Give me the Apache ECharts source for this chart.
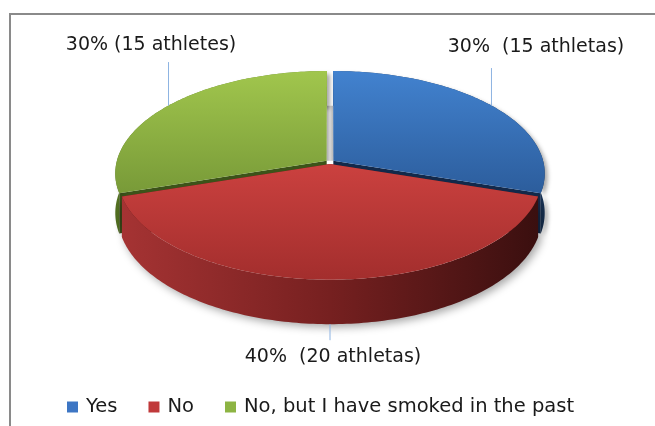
<!DOCTYPE html>
<html><head><meta charset="utf-8">
<script src="https://cdn.jsdelivr.net/npm/echarts@6/dist/echarts.min.js"></script>
<style>html,body{margin:0;padding:0;background:#fff}#c{width:655px;height:426px}</style>
</head><body><div id="c"></div>
<script>
// ---- data ----
const categories = ['Yes', 'No', 'No, but I have smoked in the past'];
const values = [15, 20, 15];
const labelTexts = ['30%  (15 athletas)', '40%  (20 athletas)', '30% (15 athletes)'];

// ---- styling / geometry (not data) ----
const CX = 330, CY = 162, R = 210, RY = 101, P = 0.122, H = 39, EXP = 0.02;
const FONT = '"DejaVu Sans", sans-serif';
const styles = [
  { legend: '#3d76c4', topA: '#4282cf', topB: '#2c5d9c', sideA: '#23446f', sideB: '#152c4b', wall: '#13294a' },
  { legend: '#c0393a', topA: '#cb413f', topB: '#a32e2d', sideA: '#a53333', sideM: '#762020', sideB: '#3a0f0f', wall: '#5a1717' },
  { legend: '#8db443', topA: '#a1c64d', topB: '#789a38', sideA: '#688a2b', sideB: '#4e6a1f', wall: '#3c5319' }
];
const labelPlace = [
  { lineDy: -37.5, dx: 44.5, dy: -58.5, bottom: false },
  { lineDy: 16, dx: 3, dy: 33, bottom: true },
  { lineDy: -43.5, dx: -17.5, dy: -60.5, bottom: false }
];

function proj(th, r, h, ox, oz) {
  const u = r * Math.sin(th) + ox;
  const w = -r * Math.cos(th) + oz;
  const s = 1 / (1 - P * w);
  return [CX + R * u * s, CY + (RY * w + h) * s];
}
function arcPts(a0, a1, h, ox, oz) {
  const n = Math.max(2, Math.ceil((a1 - a0) / (Math.PI / 180)));
  const pts = [];
  for (let k = 0; k <= n; k++) pts.push(proj(a0 + (a1 - a0) * k / n, 1, h, ox, oz));
  return pts;
}
const total = values.reduce((a, b) => a + b, 0);

function makeRender(i) {
  return function (params, api) {
    const v = api.value(0);
    let before = 0;
    for (let k = 0; k < i; k++) before += values[k];
    const a0 = before / total * Math.PI * 2;
    const a1 = a0 + v / total * Math.PI * 2;
    const mid = (a0 + a1) / 2;
    const ox = EXP * Math.sin(mid), oz = -EXP * Math.cos(mid);
    const st = styles[i];
    const G = echarts.graphic;
    const children = [];

    // gray gap seen between the two back slices at 12 o'clock (drawn with the first slice)
    if (i === 0) {
      const gm = (values[0] + values[1] + values[2] / 2) / total * Math.PI * 2;
      const gox = EXP * Math.sin(gm), goz = -EXP * Math.cos(gm);
      children.push({
        type: 'polygon',
        shape: { points: [proj(0, 0, 0, gox, goz), proj(0, 0, 0, ox, oz), proj(0, 1, H, ox, oz), proj(0, 1, H, gox, goz)] },
        style: { fill: new G.LinearGradient(0, 0, 1, 0, [{ offset: 0, color: '#a9a9a9' }, { offset: 0.5, color: '#d6d6d6' }, { offset: 1, color: '#b5b5b5' }]) }
      });
    }

    // radial walls
    [a0, a1].forEach(function (a) {
      children.push({
        type: 'polygon',
        shape: { points: [proj(a, 0, 0, ox, oz), proj(a, 1, 0, ox, oz), proj(a, 1, H, ox, oz), proj(a, 0, H, ox, oz)] },
        style: { fill: st.wall }
      });
    });

    // outer side
    const topArc = arcPts(a0, a1, 0, ox, oz);
    const botArc = arcPts(a0, a1, H, ox, oz).reverse();
    let sideFill;
    if (st.sideM) {
      sideFill = new G.LinearGradient(0, 0, 1, 0, [{ offset: 0, color: st.sideA }, { offset: 0.5, color: st.sideM }, { offset: 1, color: st.sideB }]);
    } else {
      sideFill = new G.LinearGradient(0, 0, 0, 1, [{ offset: 0, color: st.sideA }, { offset: 1, color: st.sideB }]);
    }
    children.push({
      type: 'polygon',
      shape: { points: topArc.concat(botArc) },
      style: { fill: sideFill, shadowBlur: st.sideM ? 8 : 4, shadowColor: 'rgba(0,0,0,0.35)', shadowOffsetX: 3, shadowOffsetY: 3 }
    });

    // top face
    children.push({
      type: 'polygon',
      shape: { points: [proj(0, 0, 0, ox, oz)].concat(topArc) },
      style: { fill: new G.LinearGradient(0, 0, 0, 1, [{ offset: 0, color: st.topA }, { offset: 1, color: st.topB }]) }
    });

    // leader line and label
    const lp = labelPlace[i];
    const anchor = proj(mid, 1, lp.bottom ? H : 0, ox, oz);
    children.push({
      type: 'line',
      shape: { x1: anchor[0], y1: anchor[1], x2: anchor[0], y2: anchor[1] + lp.lineDy },
      style: { stroke: '#8db3e2', lineWidth: 1 }
    });
    children.push({
      type: 'text',
      style: {
        text: labelTexts[i], x: anchor[0] + lp.dx, y: anchor[1] + lp.dy,
        align: 'center', verticalAlign: 'middle',
        fill: '#1a1a1a', fontSize: 19, fontFamily: FONT
      }
    });
    return { type: 'group', children: children };
  };
}

const series = categories.map(function (name, i) {
  return {
    type: 'custom',
    name: name,
    coordinateSystem: 'none',
    z: i === 1 ? 3 : 2,
    itemStyle: { color: styles[i].legend },
    data: [values[i]],
    renderItem: makeRender(i),
    silent: true
  };
});

const chart = echarts.init(document.getElementById('c'), null, { renderer: 'canvas' });
chart.setOption({
  animation: false,
  backgroundColor: '#ffffff',
  graphic: [{
    type: 'rect', z: -10,
    shape: { x: 10, y: 14, width: 700, height: 500 },
    style: { fill: 'none', stroke: '#8a8a8a', lineWidth: 2 }
  }],
  legend: {
    data: categories,
    left: 67, top: 397, padding: 0,
    icon: 'rect', itemWidth: 11, itemHeight: 11, itemGap: 31,
    textStyle: { fontFamily: FONT, fontSize: 19.5, color: '#1a1a1a', padding: [0, 0, 0, 3] }
  },
  series: series
});
</script></body></html>
